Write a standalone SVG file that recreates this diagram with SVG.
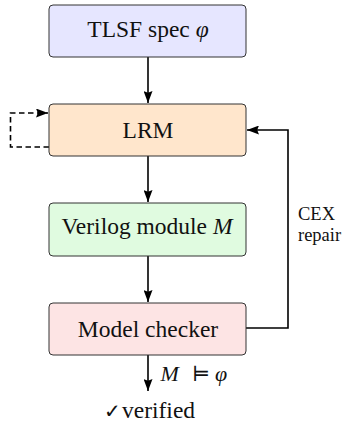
<svg xmlns="http://www.w3.org/2000/svg" width="349" height="423" viewBox="0 0 349 423">
<defs>
<marker id="ah" markerWidth="12" markerHeight="9" refX="12" refY="4.5" orient="auto" markerUnits="userSpaceOnUse">
<path d="M0,0 L12,4.5 L0,9 L1.8,4.5 Z" fill="#000"/>
</marker>
<style>
.box{stroke:#333;stroke-width:1}
.t{font-family:"Liberation Serif","Times New Roman",serif;font-size:23.5px;fill:#111;text-anchor:middle}
.lbl{font-family:"Liberation Serif","Times New Roman",serif;fill:#111}
.c{fill:none;stroke:#000;stroke-width:1.6}
</style>
</defs>
<rect width="349" height="423" fill="#fff"/>
<g id="connectors">
<path class="c" d="M148,57 V103" marker-end="url(#ah)"/>
<path class="c" d="M148,156 V202" marker-end="url(#ah)"/>
<path class="c" d="M148,256 V302" marker-end="url(#ah)"/>
<path class="c" d="M148,355 V391" marker-end="url(#ah)"/>
<path class="c" d="M246,328 H288 V130 H247" marker-end="url(#ah)"/>
<path class="c" d="M49,147 H10.5 V113 H48" stroke-dasharray="5.5,3.5" marker-end="url(#ah)"/>
<text class="lbl" x="298" y="220" font-size="18.5">CEX</text>
<text class="lbl" x="298" y="241" font-size="18.5">repair</text>
<text class="lbl" y="381" font-size="22"><tspan x="160.5" font-style="italic">M</tspan><tspan x="192" font-family="'DejaVu Serif','DejaVu Sans',serif" font-size="21">⊨</tspan><tspan x="215" font-style="italic">φ</tspan></text>
</g>
<g id="n1"><rect class="box" x="49" y="5" width="197" height="52" rx="4" fill="#E6E6FF"/><text class="t" x="148" y="37">TLSF spec <tspan font-style="italic">φ</tspan></text></g>
<g id="n2"><rect class="box" x="49" y="104" width="197" height="52" rx="4" fill="#FFE6CC"/><text class="t" x="148" y="138.3">LRM</text></g>
<g id="n3"><rect class="box" x="49" y="203" width="197" height="53" rx="4" fill="#E0FBE0"/><text class="t" x="147" y="234">Verilog module <tspan font-style="italic">M</tspan></text></g>
<g id="n4"><rect class="box" x="49" y="303" width="197" height="52" rx="4" fill="#FDE4E4"/><text class="t" x="148" y="336.7">Model checker</text></g>
<g id="out"><text class="lbl" x="104" y="418" font-size="20" font-family="'DejaVu Sans',sans-serif">✓</text><text class="lbl" x="122" y="418" font-size="23.5">verified</text></g>
</svg>
